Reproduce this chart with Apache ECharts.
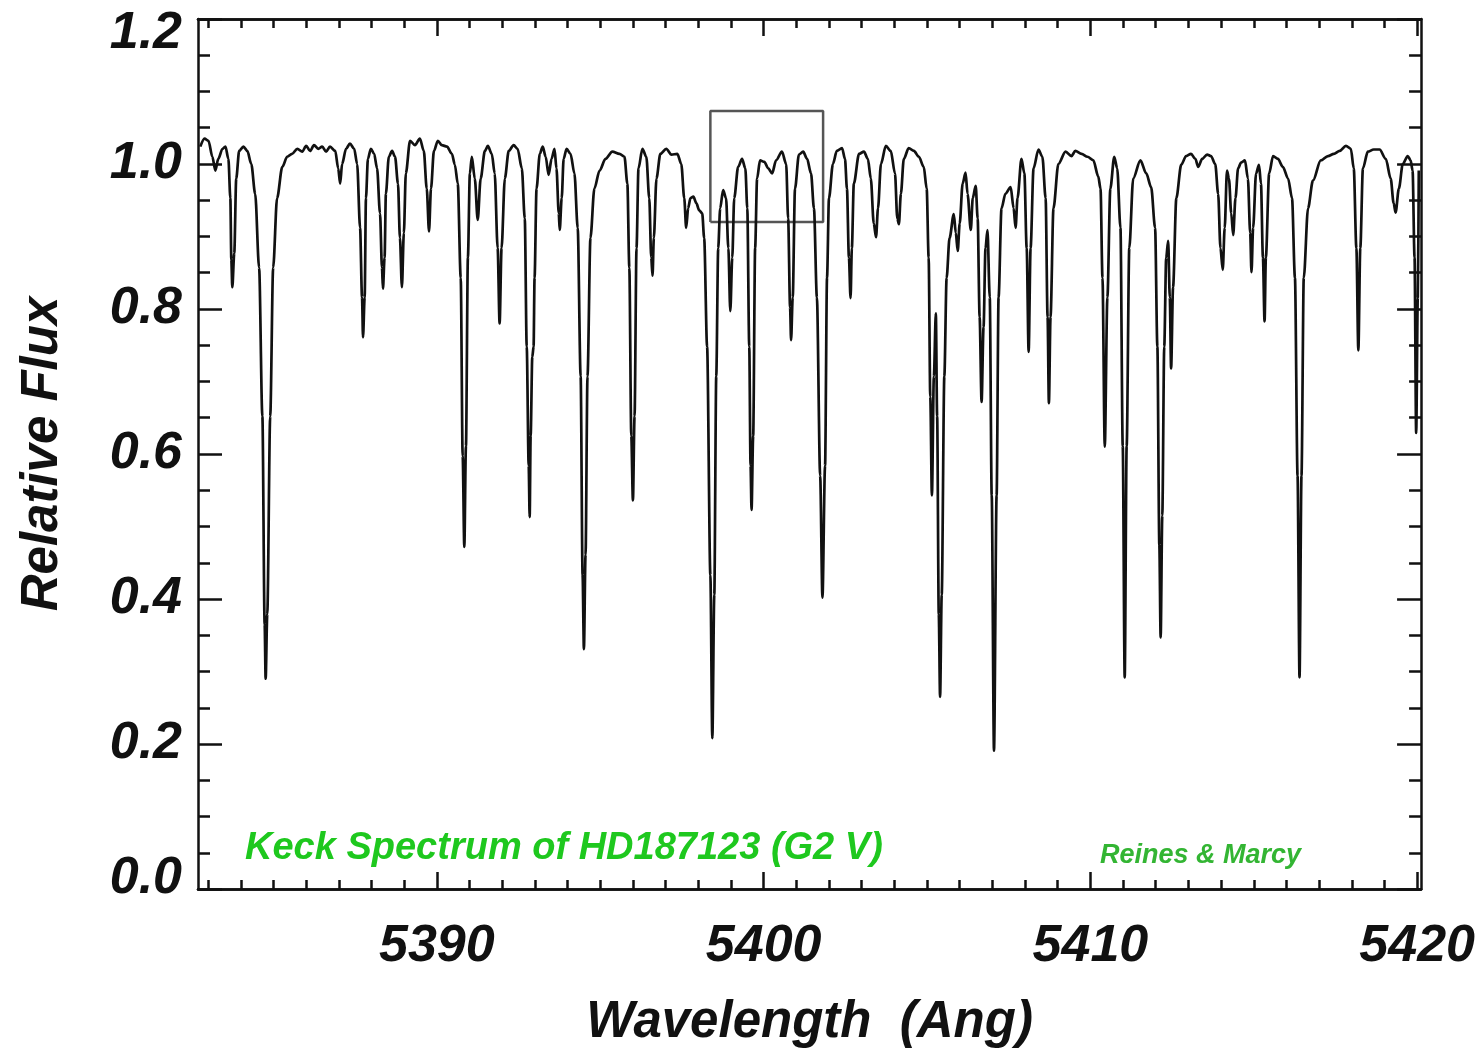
<!DOCTYPE html>
<html>
<head>
<meta charset="utf-8">
<title>Keck Spectrum of HD187123</title>
<script src="https://cdn.jsdelivr.net/npm/echarts@6/dist/echarts.min.js"></script>
<style>
  html, body { margin: 0; padding: 0; background: #fff; }
  #chart { width: 1478px; height: 1053px; }
</style>
</head>
<body>
<div id="chart"></div>
<script>
// wavelength (Angstrom), relative flux
const spectrum = [
  [5382.76,1.024],[5382.89,1.035],[5383.01,1.032],[5383.13,1.010],[5383.22,0.991],[5383.31,1.007],
  [5383.44,1.021],[5383.53,1.024],[5383.62,1.007],[5383.68,0.953],[5383.71,0.868],[5383.74,0.830],
  [5383.80,0.877],[5383.86,0.980],[5383.95,1.018],[5384.08,1.024],[5384.20,1.018],[5384.32,1.000],
  [5384.44,0.959],[5384.56,0.857],[5384.66,0.652],[5384.73,0.365],[5384.76,0.290],[5384.81,0.379],
  [5384.90,0.652],[5384.99,0.857],[5385.11,0.953],[5385.27,0.996],[5385.42,1.010],[5385.57,1.014],
  [5385.73,1.021],[5385.88,1.017],[5386.00,1.025],[5386.12,1.018],[5386.24,1.026],[5386.37,1.021],
  [5386.49,1.024],[5386.61,1.017],[5386.73,1.024],[5386.89,1.018],[5386.98,0.994],[5387.04,0.973],
  [5387.10,1.000],[5387.22,1.021],[5387.34,1.028],[5387.47,1.021],[5387.56,1.000],[5387.65,0.912],
  [5387.71,0.816],[5387.74,0.761],[5387.79,0.816],[5387.83,0.953],[5387.89,1.007],[5387.98,1.021],
  [5388.08,1.014],[5388.17,0.994],[5388.26,0.932],[5388.32,0.857],[5388.35,0.828],[5388.40,0.871],
  [5388.44,0.959],[5388.53,1.010],[5388.63,1.018],[5388.72,1.010],[5388.81,0.973],[5388.87,0.898],
  [5388.93,0.830],[5388.99,0.905],[5389.05,0.987],[5389.18,1.032],[5389.33,1.026],[5389.48,1.035],
  [5389.60,1.018],[5389.69,0.966],[5389.76,0.907],[5389.82,0.966],[5389.91,1.018],[5390.03,1.032],
  [5390.15,1.026],[5390.31,1.024],[5390.46,1.014],[5390.55,0.999],[5390.64,0.973],[5390.73,0.843],
  [5390.79,0.597],[5390.84,0.472],[5390.89,0.611],[5390.95,0.871],[5391.01,0.987],[5391.07,1.010],
  [5391.16,0.980],[5391.25,0.923],[5391.34,0.980],[5391.47,1.018],[5391.56,1.025],[5391.68,1.014],
  [5391.77,0.987],[5391.86,0.884],[5391.92,0.780],[5391.98,0.884],[5392.08,0.980],[5392.20,1.018],
  [5392.35,1.026],[5392.47,1.021],[5392.60,0.994],[5392.69,0.925],[5392.75,0.748],[5392.81,0.584],
  [5392.84,0.513],[5392.87,0.625],[5392.92,0.734],[5392.96,0.748],[5392.99,0.843],[5393.05,0.966],
  [5393.15,1.014],[5393.24,1.024],[5393.33,1.010],[5393.42,0.985],[5393.51,1.007],[5393.60,1.021],
  [5393.66,0.994],[5393.73,0.932],[5393.76,0.909],[5393.82,0.953],[5393.88,1.007],[5393.97,1.021],
  [5394.09,1.014],[5394.21,0.987],[5394.31,0.912],[5394.40,0.707],[5394.46,0.433],[5394.50,0.331],
  [5394.55,0.461],[5394.61,0.707],[5394.70,0.898],[5394.82,0.966],[5394.98,0.991],[5395.16,1.007],
  [5395.37,1.017],[5395.59,1.014],[5395.74,1.010],[5395.83,0.973],[5395.89,0.857],[5395.95,0.625],
  [5396.00,0.536],[5396.05,0.652],[5396.11,0.884],[5396.17,0.994],[5396.29,1.021],[5396.41,1.010],
  [5396.50,0.953],[5396.56,0.871],[5396.60,0.846],[5396.64,0.898],[5396.72,0.980],[5396.84,1.014],
  [5397.02,1.021],[5397.18,1.013],[5397.36,1.014],[5397.48,1.000],[5397.57,0.953],[5397.63,0.912],
  [5397.69,0.939],[5397.76,0.953],[5397.85,0.955],[5397.94,0.946],[5398.03,0.936],[5398.12,0.932],
  [5398.18,0.898],[5398.27,0.748],[5398.37,0.433],[5398.43,0.208],[5398.49,0.406],[5398.55,0.707],
  [5398.61,0.884],[5398.67,0.939],[5398.76,0.964],[5398.85,0.953],[5398.92,0.884],[5398.98,0.797],
  [5399.04,0.871],[5399.10,0.953],[5399.22,0.996],[5399.34,1.007],[5399.44,0.994],[5399.50,0.939],
  [5399.56,0.748],[5399.60,0.584],[5399.63,0.523],[5399.68,0.625],[5399.74,0.884],[5399.80,0.980],
  [5399.89,1.005],[5400.02,1.003],[5400.14,0.994],[5400.26,0.987],[5400.38,1.005],[5400.56,1.017],
  [5400.69,1.000],[5400.75,0.925],[5400.81,0.802],[5400.84,0.757],[5400.89,0.816],[5400.96,0.966],
  [5401.08,1.013],[5401.21,1.017],[5401.33,1.007],[5401.45,0.987],[5401.54,0.939],[5401.63,0.816],
  [5401.73,0.570],[5401.80,0.402],[5401.88,0.584],[5401.94,0.843],[5402.00,0.953],[5402.12,1.000],
  [5402.24,1.018],[5402.40,1.022],[5402.49,1.007],[5402.55,0.966],[5402.61,0.871],[5402.66,0.815],
  [5402.70,0.884],[5402.76,0.973],[5402.92,1.014],[5403.07,1.017],[5403.19,1.007],[5403.28,0.980],
  [5403.37,0.918],[5403.44,0.899],[5403.50,0.939],[5403.59,1.000],[5403.74,1.025],[5403.89,1.018],
  [5404.02,0.987],[5404.09,0.925],[5404.14,0.917],[5404.20,0.959],[5404.29,1.007],[5404.44,1.022],
  [5404.60,1.018],[5404.75,1.010],[5404.90,0.996],[5404.99,0.966],[5405.05,0.871],[5405.10,0.679],
  [5405.15,0.543],[5405.21,0.707],[5405.27,0.794],[5405.31,0.652],[5405.36,0.379],[5405.40,0.265],
  [5405.45,0.406],[5405.53,0.707],[5405.60,0.843],[5405.69,0.898],[5405.82,0.931],[5405.88,0.905],
  [5405.94,0.880],[5406.00,0.918],[5406.09,0.973],[5406.18,0.988],[5406.24,0.959],[5406.34,0.909],
  [5406.40,0.953],[5406.49,0.970],[5406.55,0.925],[5406.61,0.789],[5406.67,0.672],[5406.73,0.775],
  [5406.79,0.884],[5406.85,0.909],[5406.92,0.816],[5406.98,0.543],[5407.05,0.191],[5407.13,0.543],
  [5407.19,0.816],[5407.28,0.939],[5407.40,0.959],[5407.56,0.968],[5407.65,0.939],[5407.71,0.912],
  [5407.77,0.953],[5407.89,1.007],[5407.98,0.987],[5408.05,0.884],[5408.11,0.741],[5408.17,0.884],
  [5408.26,0.994],[5408.41,1.020],[5408.53,1.010],[5408.63,0.953],[5408.69,0.789],[5408.73,0.670],
  [5408.78,0.789],[5408.87,0.939],[5409.02,1.000],[5409.24,1.017],[5409.42,1.011],[5409.54,1.018],
  [5409.73,1.014],[5409.91,1.010],[5410.09,1.005],[5410.24,0.983],[5410.31,0.966],[5410.37,0.843],
  [5410.44,0.610],[5410.52,0.816],[5410.61,0.966],[5410.73,1.010],[5410.82,0.994],[5410.92,0.912],
  [5410.99,0.611],[5411.05,0.292],[5411.11,0.611],[5411.19,0.884],[5411.31,0.980],[5411.53,1.005],
  [5411.71,0.987],[5411.86,0.968],[5411.98,0.912],[5412.05,0.748],[5412.11,0.474],[5412.15,0.347],
  [5412.20,0.515],[5412.26,0.748],[5412.32,0.871],[5412.38,0.894],[5412.43,0.816],[5412.47,0.718],
  [5412.53,0.830],[5412.63,0.953],[5412.78,0.999],[5412.93,1.011],[5413.08,1.014],[5413.21,1.007],
  [5413.30,0.996],[5413.42,1.007],[5413.57,1.013],[5413.69,1.011],[5413.82,1.000],[5413.91,0.959],
  [5413.98,0.884],[5414.05,0.854],[5414.11,0.912],[5414.18,0.991],[5414.24,0.980],[5414.31,0.932],
  [5414.37,0.902],[5414.44,0.953],[5414.52,0.994],[5414.61,1.002],[5414.73,1.005],[5414.82,0.980],
  [5414.89,0.905],[5414.93,0.851],[5414.98,0.912],[5415.07,0.987],[5415.16,0.999],[5415.22,0.973],
  [5415.28,0.871],[5415.33,0.783],[5415.37,0.871],[5415.47,0.987],[5415.59,1.011],[5415.74,1.007],
  [5415.89,0.996],[5416.05,0.980],[5416.17,0.953],[5416.26,0.843],[5416.34,0.570],[5416.40,0.292],
  [5416.46,0.570],[5416.53,0.843],[5416.66,0.939],[5416.81,0.977],[5417.05,1.005],[5417.27,1.011],
  [5417.45,1.014],[5417.63,1.018],[5417.82,1.025],[5417.97,1.021],[5418.06,0.994],[5418.14,0.884],
  [5418.20,0.743],[5418.26,0.884],[5418.34,0.994],[5418.49,1.017],[5418.67,1.020],[5418.85,1.020],
  [5419.04,1.007],[5419.19,0.980],[5419.28,0.946],[5419.34,0.933],[5419.44,0.966],[5419.56,1.000],
  [5419.71,1.011],[5419.80,1.005],[5419.86,0.991],[5419.92,0.871],[5419.97,0.629],[5420.02,0.816],
  [5420.05,0.991]
];

// the little box drawn over the 5398-5402 region
const boxWave = [5398.37, 5398.37, 5401.82, 5401.82, 5398.37];
const boxFlux = [0.920, 1.073, 1.073, 0.920, 0.920];

const xRange = [5382.69, 5420.12];
const xMajor = [5390, 5400, 5410, 5420];
const xMinor = [5383,5384,5385,5386,5387,5388,5389,5390,5391,5392,5393,5394,5395,5396,5397,5398,
  5399,5400,5401,5402,5403,5404,5405,5406,5407,5408,5409,5410,5411,5412,5413,5414,5415,5416,5417,
  5418,5419,5420];
const yRange = [0, 1.2];

const FONT = '"Liberation Sans Narrow", "Liberation Sans", Arial, sans-serif';
const INK = '#111';

let chart = echarts.init(document.getElementById('chart'));

function xAxisCfg(pos, ticks, len, withLabels) {
    return {
        type: 'value',
        position: pos,
        min: xRange[0],
        max: xRange[1],
        axisLine: { show: true, onZero: false, lineStyle: { color: INK, width: 2.5 } },
        axisTick: { show: true, inside: true, length: len, customValues: ticks,
                    lineStyle: { color: INK, width: 2.5 } },
        axisLabel: withLabels ? {
            show: true, customValues: xMajor, margin: 32,
            color: INK, fontFamily: FONT, fontStyle: 'italic', fontWeight: 'bold', fontSize: 52,
            formatter: v => String(v)
        } : { show: false },
        splitLine: { show: false }
    };
}

function yAxisCfg(pos, withLabels) {
    return {
        type: 'value',
        position: pos,
        min: yRange[0],
        max: yRange[1],
        interval: 0.2,
        axisLine: { show: true, onZero: false, lineStyle: { color: INK, width: 2.5 } },
        axisTick: { show: true, inside: true, length: 24, lineStyle: { color: INK, width: 2.5 } },
        minorTick: { show: true, splitNumber: 4, length: 12, lineStyle: { color: INK, width: 2.5 } },
        axisLabel: withLabels ? {
            show: true, margin: 16,
            color: INK, fontFamily: FONT, fontStyle: 'italic', fontWeight: 'bold', fontSize: 52,
            formatter: function (v) {
                let s = v.toFixed(1);
                if (v === 0) return '{lo|' + s + '}';
                if (Math.abs(v - 1.2) < 1e-6) return '{hi|' + s + '}';
                return s;
            },
            rich: {
                lo: { fontFamily: FONT, fontStyle: 'italic', fontWeight: 'bold', fontSize: 52, color: INK,
                      padding: [0, 0, 20, 0] },
                hi: { fontFamily: FONT, fontStyle: 'italic', fontWeight: 'bold', fontSize: 52, color: INK,
                      padding: [30, 0, 0, 0] }
            }
        } : { show: false },
        splitLine: { show: false },
        minorSplitLine: { show: false }
    };
}

let xBottom = xAxisCfg('bottom', xMajor, 17, true);
xBottom.name = 'Wavelength  (Ang)';
xBottom.nameLocation = 'middle';
xBottom.nameGap = 108;
xBottom.nameTextStyle = { color: INK, fontFamily: FONT, fontStyle: 'italic', fontWeight: 'bold', fontSize: 51 };

let yLeft = yAxisCfg('left', true);
yLeft.name = 'Relative Flux';
yLeft.nameLocation = 'middle';
yLeft.nameGap = 130;
yLeft.nameTextStyle = { color: INK, fontFamily: FONT, fontStyle: 'italic', fontWeight: 'bold', fontSize: 51 };

let option = {
    backgroundColor: '#fff',
    animation: false,
    grid: { left: 198, right: 56, top: 19, bottom: 156, containLabel: false },
    xAxis: [
        xBottom,
        xAxisCfg('bottom', xMinor, 9, false),
        xAxisCfg('top', xMajor, 17, false),
        xAxisCfg('top', xMinor, 9, false)
    ],
    yAxis: [
        yLeft,
        yAxisCfg('right', false)
    ],
    series: [
        {
            name: 'HD187123',
            type: 'line',
            xAxisIndex: 0,
            yAxisIndex: 0,
            data: spectrum,
            showSymbol: false,
            smooth: 0.3,
            smoothMonotone: 'x',
            lineStyle: { color: INK, width: 2.7 },
            z: 3
        },
        {
            name: 'box',
            type: 'line',
            xAxisIndex: 0,
            yAxisIndex: 0,
            data: boxWave.map((w, i) => [w, boxFlux[i]]),
            showSymbol: false,
            lineStyle: { color: '#555', width: 2.5 },
            z: 2
        }
    ],
    graphic: [
        {
            type: 'text', left: 245, top: 830,
            style: { text: 'Keck Spectrum of HD187123 (G2 V)', fill: '#1ec81e',
                     font: 'italic bold 38px ' + FONT }
        },
        {
            type: 'text', left: 1100, top: 842,
            style: { text: 'Reines & Marcy', fill: '#33b533',
                     font: 'italic bold 27px ' + FONT }
        }
    ]
};

chart.setOption(option);
</script>
</body>
</html>
